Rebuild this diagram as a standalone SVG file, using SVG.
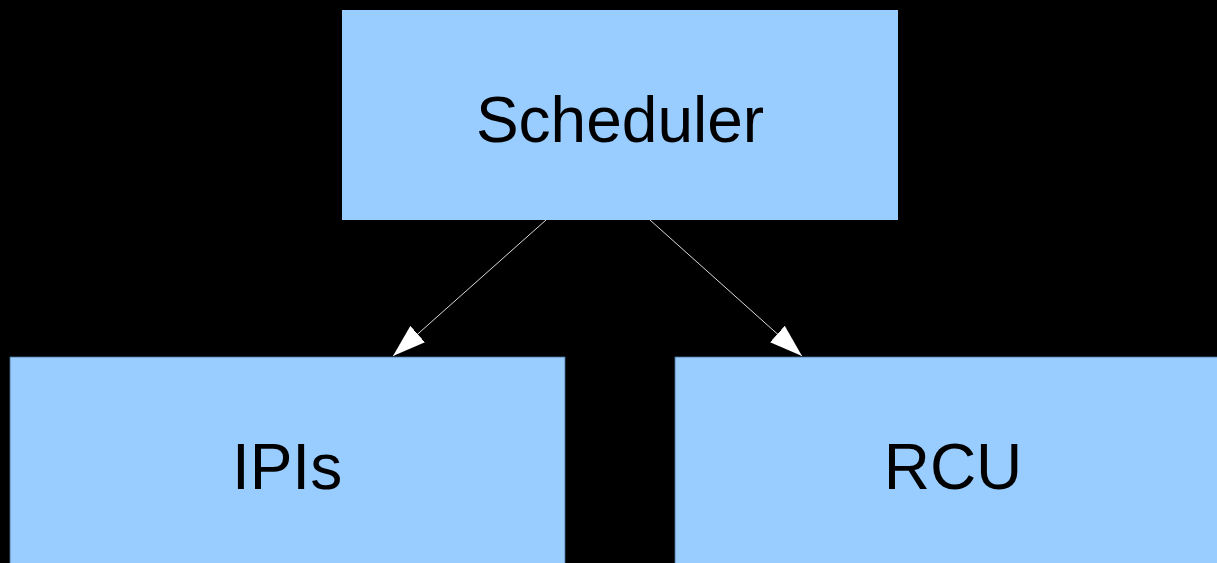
<svg xmlns="http://www.w3.org/2000/svg" width="1217" height="563" viewBox="0 0 1217 563">
<style>
.box{fill:#99ccff}
.low{stroke:#4a6f94;stroke-width:0.8}
.lbl{font-family:"Liberation Sans",Arial,sans-serif;font-size:64px;fill:#000;text-anchor:middle}
.edge{stroke:#d8d8d8;stroke-width:1;fill:none}
</style>
<defs>
<marker id="ah" markerUnits="userSpaceOnUse" markerWidth="34" markerHeight="22" refX="33" refY="11" orient="auto">
<path d="M0,0 L33,11 L0,22 Z" fill="#ffffff"/>
</marker>
</defs>
<rect x="0" y="0" width="1217" height="563" fill="#000"/>
<g id="connectors">
<line class="edge" x1="546" y1="220" x2="393" y2="356" marker-end="url(#ah)"/>
<line class="edge" x1="650" y1="220" x2="802" y2="356" marker-end="url(#ah)"/>
</g>
<g id="scheduler">
<rect class="box" x="342" y="10" width="556" height="210"/>
<text class="lbl" x="620" y="142">Scheduler</text>
</g>
<g id="ipis">
<rect class="box low" x="10" y="357" width="555" height="220"/>
<text class="lbl" x="287" y="489">IPIs</text>
</g>
<g id="rcu">
<rect class="box low" x="675" y="357" width="560" height="220"/>
<text class="lbl" x="953" y="489">RCU</text>
</g>
</svg>
